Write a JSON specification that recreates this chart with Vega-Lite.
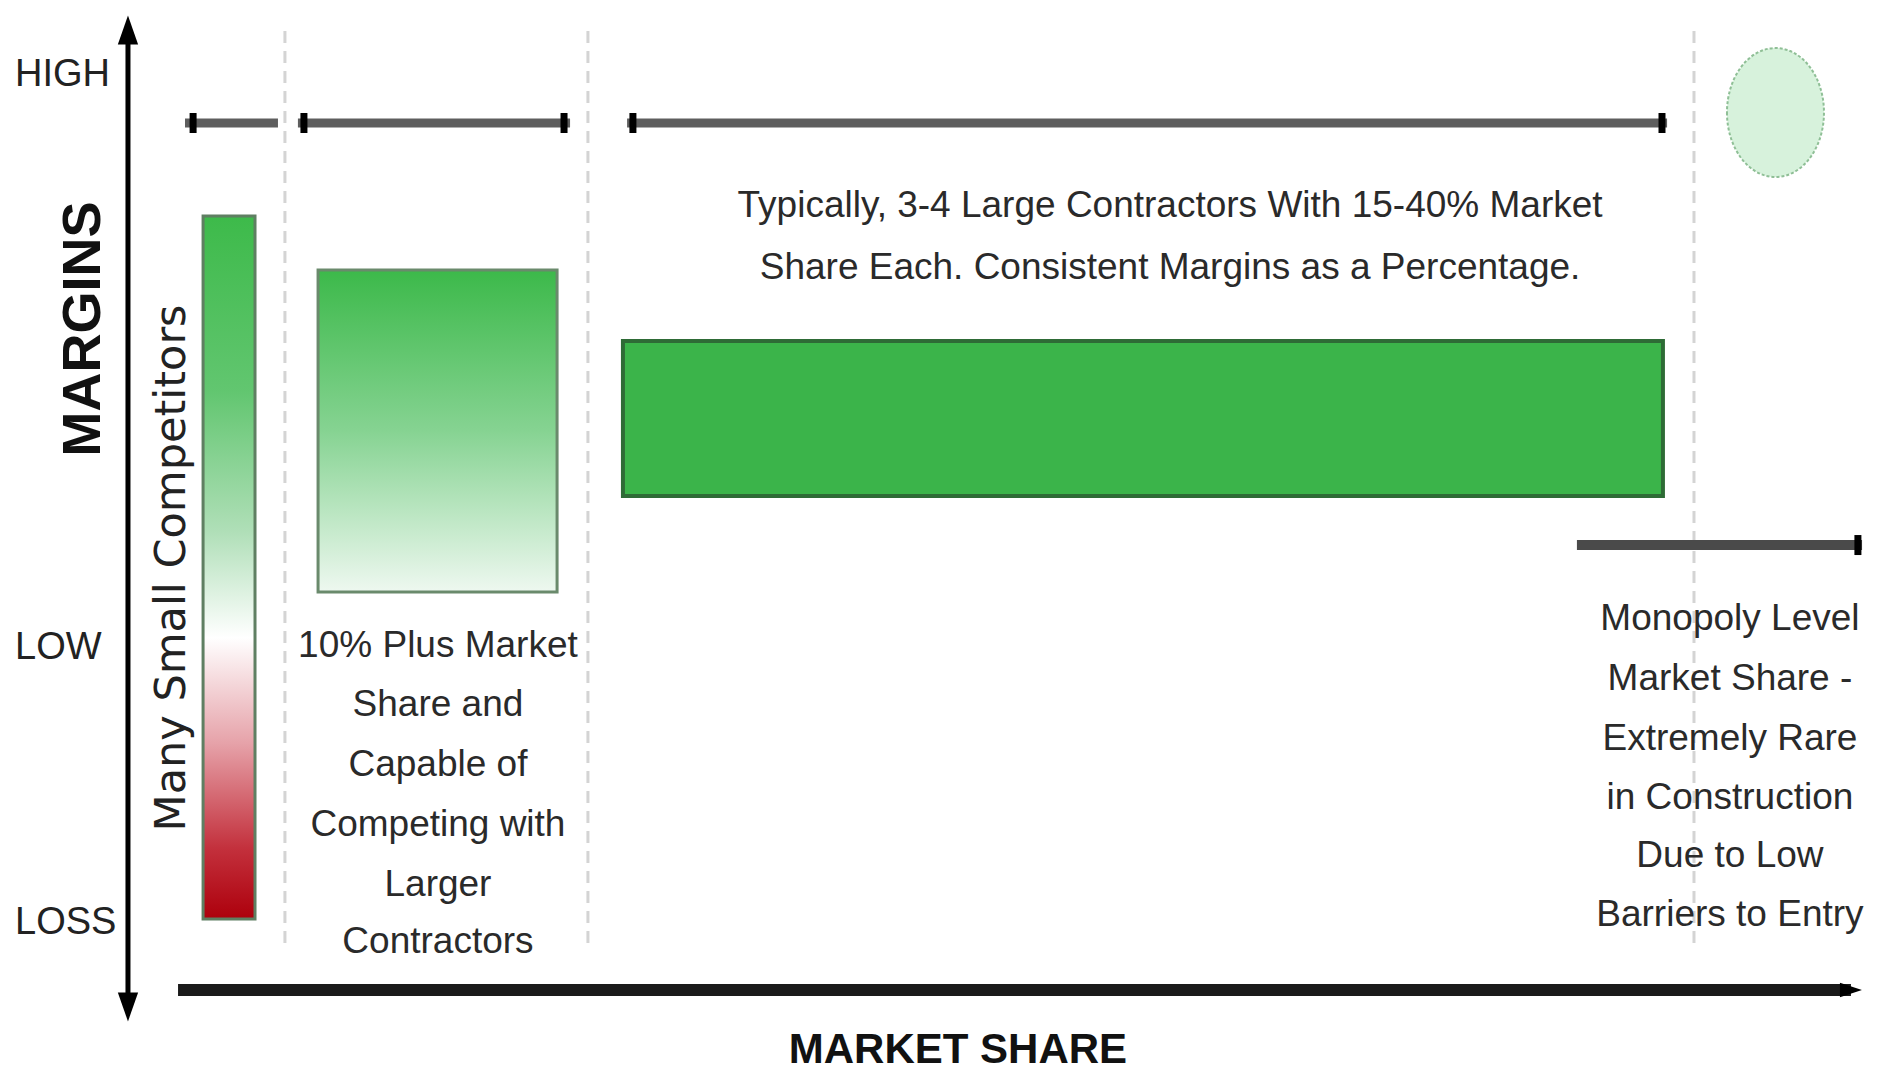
{
  "$schema": "https://vega.github.io/schema/vega-lite/v6.json",
  "width": 1882,
  "height": 1081,
  "autosize": {"type": "none"},
  "padding": 0,
  "background": "white",
  "config": {"view": {"stroke": null}},
  "datasets": {
    "dividers": [
      {"x": 15.14, "top": 97.13, "bottom": 12.12},
      {"x": 31.24, "top": 97.13, "bottom": 12.12},
      {"x": 90.01, "top": 97.13, "bottom": 12.12}
    ],
    "small": [{"x1": 10.79, "x2": 13.55, "top": 80.02, "bottom": 14.99, "group": "Many Small Competitors"}],
    "mid": [{"x1": 16.90, "x2": 29.60, "top": 75.02, "bottom": 45.24, "group": "10% Plus Market Share"}],
    "large": [{"x1": 33.10, "x2": 88.36, "top": 68.46, "bottom": 54.12, "group": "3-4 Large Contractors"}],
    "monopoly": [{"x": 94.34, "y": 89.59, "group": "Monopoly"}],
    "ranges": [
      {"x1": 9.83, "x2": 14.77, "y": 88.62},
      {"x1": 15.83, "x2": 30.29, "y": 88.62},
      {"x1": 33.32, "x2": 88.58, "y": 88.62}
    ],
    "monoRange": [{"x1": 83.79, "x2": 98.94, "y": 49.58}],
    "ticks": [
      {"x": 10.26, "y": 88.62},
      {"x": 16.15, "y": 88.62},
      {"x": 29.97, "y": 88.62},
      {"x": 33.63, "y": 88.62},
      {"x": 88.31, "y": 88.62},
      {"x": 98.72, "y": 49.58}
    ],
    "yaxis": [{"x": 6.80, "top": 97.22, "bottom": 6.85}],
    "xaxis": [{"x1": 9.46, "x2": 98.35, "y": 8.42}],
    "levels": [
      {"x": 0.80, "y": 92.04, "label": "HIGH"},
      {"x": 0.80, "y": 39.04, "label": "LOW"},
      {"x": 0.80, "y": 13.60, "label": "LOSS"}
    ],
    "ytitle": [{"x": 4.46, "y": 69.57, "label": "MARGINS"}],
    "xtitle": [{"x": 50.90, "y": 1.67, "label": "MARKET SHARE"}],
    "smallLabel": [{"x": 9.14, "y": 47.46, "label": "Many Small Competitors"}],
    "largeLabel": [
      {"x": 62.17, "y": 79.93, "label": "Typically, 3-4 Large Contractors With 15-40% Market"},
      {"x": 62.17, "y": 74.19, "label": "Share Each. Consistent Margins as a Percentage."}
    ],
    "midLabel": [
      {"x": 23.27, "y": 39.22, "label": "10% Plus Market"},
      {"x": 23.27, "y": 33.77, "label": "Share and"},
      {"x": 23.27, "y": 28.21, "label": "Capable of"},
      {"x": 23.27, "y": 22.66, "label": "Competing with"},
      {"x": 23.27, "y": 17.11, "label": "Larger"},
      {"x": 23.27, "y": 11.84, "label": "Contractors"}
    ],
    "monoLabel": [
      {"x": 91.92, "y": 41.72, "label": "Monopoly Level"},
      {"x": 91.92, "y": 36.17, "label": "Market Share -"},
      {"x": 91.92, "y": 30.62, "label": "Extremely Rare"},
      {"x": 91.92, "y": 25.16, "label": "in Construction"},
      {"x": 91.92, "y": 19.80, "label": "Due to Low"},
      {"x": 91.92, "y": 14.34, "label": "Barriers to Entry"}
    ]
  },
  "layer": [
    {
      "data": {"name": "dividers"},
      "mark": {"type": "rule", "color": "#d4d4d4", "strokeWidth": 3, "strokeDash": [12, 8]},
      "encoding": {
        "x": {"field": "x", "type": "quantitative", "scale": {"domain": [0, 100], "nice": false, "zero": false}, "axis": null},
        "y": {"field": "top", "type": "quantitative", "scale": {"domain": [0, 100], "nice": false, "zero": false}, "axis": null},
        "y2": {"field": "bottom"}
      }
    },
    {
      "data": {"name": "small"},
      "mark": {
        "type": "rect",
        "stroke": "#5f7f62",
        "strokeWidth": 3,
        "fill": {
          "gradient": "linear", "x1": 0, "y1": 0, "x2": 0, "y2": 1,
          "stops": [
            {"offset": 0, "color": "#3dba4a"},
            {"offset": 0.25, "color": "#62c670"},
            {"offset": 0.45, "color": "#b0dfb8"},
            {"offset": 0.6, "color": "#ffffff"},
            {"offset": 0.75, "color": "#e6a2a9"},
            {"offset": 0.9, "color": "#c3303c"},
            {"offset": 1, "color": "#ad000c"}
          ]
        }
      },
      "encoding": {
        "x": {"field": "x1", "type": "quantitative"},
        "x2": {"field": "x2"},
        "y": {"field": "top", "type": "quantitative"},
        "y2": {"field": "bottom"}
      }
    },
    {
      "data": {"name": "mid"},
      "mark": {
        "type": "rect",
        "stroke": "#6a8a6c",
        "strokeWidth": 3,
        "fill": {
          "gradient": "linear", "x1": 0, "y1": 0, "x2": 0, "y2": 1,
          "stops": [
            {"offset": 0, "color": "#3cb94a"},
            {"offset": 0.5, "color": "#86d392"},
            {"offset": 1, "color": "#eef8f0"}
          ]
        }
      },
      "encoding": {
        "x": {"field": "x1", "type": "quantitative"},
        "x2": {"field": "x2"},
        "y": {"field": "top", "type": "quantitative"},
        "y2": {"field": "bottom"}
      }
    },
    {
      "data": {"name": "large"},
      "mark": {"type": "rect", "fill": "#3bb44a", "stroke": "#2e6b36", "strokeWidth": 4},
      "encoding": {
        "x": {"field": "x1", "type": "quantitative"},
        "x2": {"field": "x2"},
        "y": {"field": "top", "type": "quantitative"},
        "y2": {"field": "bottom"}
      }
    },
    {
      "data": {"name": "monopoly"},
      "mark": {
        "type": "point",
        "shape": "M-0.752,0A0.752,1 0 1,0 0.752,0A0.752,1 0 1,0 -0.752,0Z",
        "size": 16641,
        "filled": true,
        "fill": "#d7f2dc",
        "stroke": "#8fbf96",
        "strokeWidth": 2,
        "strokeDash": [3, 2],
        "opacity": 1
      },
      "encoding": {
        "x": {"field": "x", "type": "quantitative"},
        "y": {"field": "y", "type": "quantitative"}
      }
    },
    {
      "data": {"name": "ranges"},
      "mark": {"type": "rule", "color": "#5e5e5e", "strokeWidth": 9},
      "encoding": {
        "x": {"field": "x1", "type": "quantitative"},
        "x2": {"field": "x2"},
        "y": {"field": "y", "type": "quantitative"}
      }
    },
    {
      "data": {"name": "monoRange"},
      "mark": {"type": "rule", "color": "#4a4a4a", "strokeWidth": 10},
      "encoding": {
        "x": {"field": "x1", "type": "quantitative"},
        "x2": {"field": "x2"},
        "y": {"field": "y", "type": "quantitative"}
      }
    },
    {
      "data": {"name": "ticks"},
      "mark": {"type": "point", "shape": "M-0.35,-1L0.35,-1L0.35,1L-0.35,1Z", "size": 400, "filled": true, "color": "#000000", "opacity": 1},
      "encoding": {
        "x": {"field": "x", "type": "quantitative"},
        "y": {"field": "y", "type": "quantitative"}
      }
    },
    {
      "data": {"name": "yaxis"},
      "mark": {"type": "rule", "color": "#000000", "strokeWidth": 5},
      "encoding": {
        "x": {"field": "x", "type": "quantitative"},
        "y": {"field": "top", "type": "quantitative"},
        "y2": {"field": "bottom"}
      }
    },
    {
      "data": {"name": "yaxis"},
      "mark": {"type": "point", "shape": "M0,-1L0.7,1L-0.7,1Z", "size": 841, "filled": true, "color": "#000000", "opacity": 1},
      "encoding": {
        "x": {"field": "x", "type": "quantitative"},
        "y": {"field": "top", "type": "quantitative"}
      }
    },
    {
      "data": {"name": "yaxis"},
      "mark": {"type": "point", "shape": "M0,1L0.7,-1L-0.7,-1Z", "size": 841, "filled": true, "color": "#000000", "opacity": 1},
      "encoding": {
        "x": {"field": "x", "type": "quantitative"},
        "y": {"field": "bottom", "type": "quantitative"}
      }
    },
    {
      "data": {"name": "xaxis"},
      "mark": {"type": "rule", "color": "#1a1a1a", "strokeWidth": 12},
      "encoding": {
        "x": {"field": "x1", "type": "quantitative"},
        "x2": {"field": "x2"},
        "y": {"field": "y", "type": "quantitative"}
      }
    },
    {
      "data": {"name": "xaxis"},
      "mark": {"type": "point", "shape": "M1,0L-1,0.65L-1,-0.65Z", "size": 484, "filled": true, "color": "#000000", "opacity": 1},
      "encoding": {
        "x": {"field": "x2", "type": "quantitative"},
        "y": {"field": "y", "type": "quantitative"}
      }
    },
    {
      "data": {"name": "levels"},
      "mark": {"type": "text", "align": "left", "baseline": "alphabetic", "font": "Liberation Sans, Arial, sans-serif", "fontSize": 38, "color": "#222222"},
      "encoding": {
        "x": {"field": "x", "type": "quantitative"},
        "y": {"field": "y", "type": "quantitative"},
        "text": {"field": "label"}
      }
    },
    {
      "data": {"name": "ytitle"},
      "mark": {"type": "text", "align": "center", "baseline": "middle", "angle": 270, "font": "Liberation Sans, Arial, sans-serif", "fontWeight": "bold", "fontSize": 54, "color": "#111111"},
      "encoding": {
        "x": {"field": "x", "type": "quantitative"},
        "y": {"field": "y", "type": "quantitative"},
        "text": {"field": "label"}
      }
    },
    {
      "data": {"name": "xtitle"},
      "mark": {"type": "text", "align": "center", "baseline": "alphabetic", "font": "Liberation Sans, Arial, sans-serif", "fontWeight": "bold", "fontSize": 42, "color": "#111111"},
      "encoding": {
        "x": {"field": "x", "type": "quantitative"},
        "y": {"field": "y", "type": "quantitative"},
        "text": {"field": "label"}
      }
    },
    {
      "data": {"name": "smallLabel"},
      "mark": {"type": "text", "align": "center", "baseline": "middle", "angle": 270, "font": "DejaVu Sans, sans-serif", "fontSize": 43, "color": "#222222"},
      "encoding": {
        "x": {"field": "x", "type": "quantitative"},
        "y": {"field": "y", "type": "quantitative"},
        "text": {"field": "label"}
      }
    },
    {
      "data": {"name": "largeLabel"},
      "mark": {"type": "text", "align": "center", "baseline": "alphabetic", "font": "Liberation Sans, Arial, sans-serif", "fontSize": 37, "color": "#2a2a2a"},
      "encoding": {
        "x": {"field": "x", "type": "quantitative"},
        "y": {"field": "y", "type": "quantitative"},
        "text": {"field": "label"}
      }
    },
    {
      "data": {"name": "midLabel"},
      "mark": {"type": "text", "align": "center", "baseline": "alphabetic", "font": "Liberation Sans, Arial, sans-serif", "fontSize": 37, "color": "#2a2a2a"},
      "encoding": {
        "x": {"field": "x", "type": "quantitative"},
        "y": {"field": "y", "type": "quantitative"},
        "text": {"field": "label"}
      }
    },
    {
      "data": {"name": "monoLabel"},
      "mark": {"type": "text", "align": "center", "baseline": "alphabetic", "font": "Liberation Sans, Arial, sans-serif", "fontSize": 37, "color": "#2a2a2a"},
      "encoding": {
        "x": {"field": "x", "type": "quantitative"},
        "y": {"field": "y", "type": "quantitative"},
        "text": {"field": "label"}
      }
    }
  ]
}
